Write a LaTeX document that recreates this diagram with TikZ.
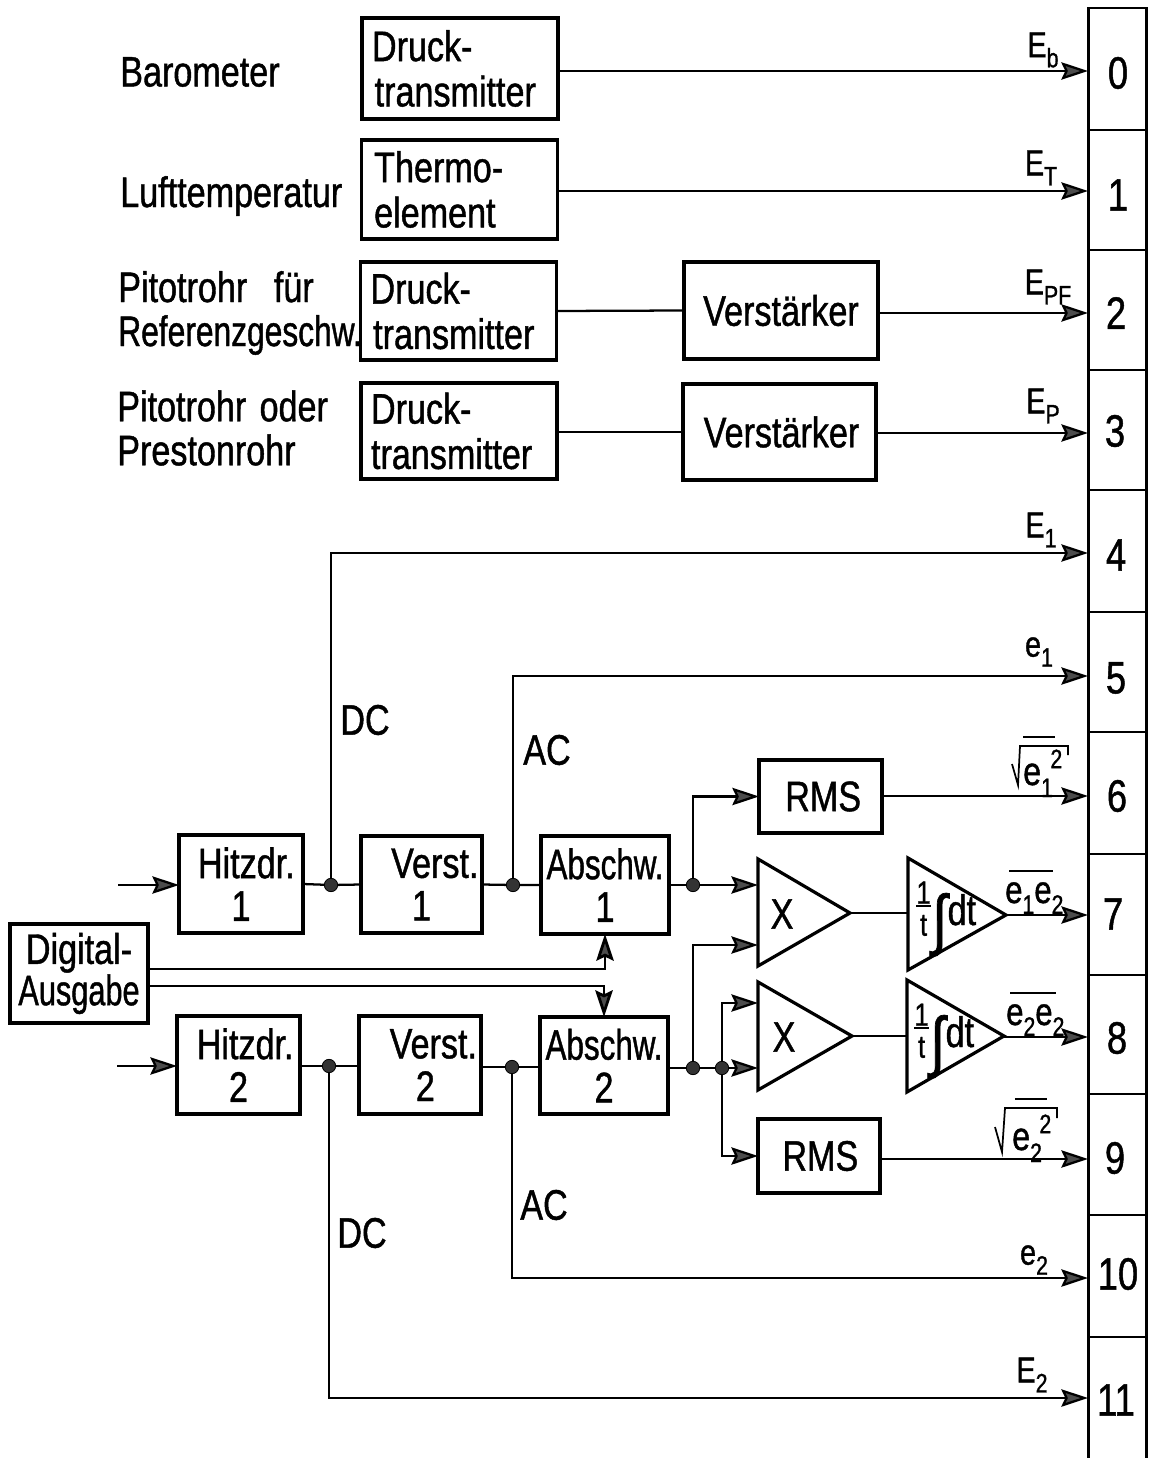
\documentclass[tikz,border=0pt]{standalone}
\usepackage{fontspec}
\usepackage{graphicx}
\setmainfont[FakeStretch=0.8,FakeBold=1.0]{Liberation Sans}
\usetikzlibrary{arrows.meta}
\newcommand{\subs}[1]{\raisebox{-0.28em}{\fontsize{20}{20}\selectfont #1}}
\newcommand{\barw}[4]{\vbox{\offinterlineskip\hbox{\kern #1\vrule width #2 height 1.4pt}\kern #3\hbox{#4}}}
\newcommand{\subsup}[2]{\rlap{\raisebox{-0.3em}{\fontsize{20}{20}\selectfont #1}}\kern 7pt\raisebox{0.42em}{\fontsize{20}{20}\selectfont #2}}
\newcommand{\ovfrac}{\makebox[11pt]{\raisebox{16pt}{\makebox[0pt]{\fontsize{24}{24}\selectfont 1}}\raisebox{13.5pt}{\makebox[0pt]{\rule{11pt}{1.7pt}}}\raisebox{-8pt}{\makebox[0pt]{\fontsize{24}{24}\selectfont t}}}}
\newcommand{\intsign}{\kern 1pt\raisebox{-13pt}{\resizebox{11pt}{37pt}{∫}}\kern 0.5pt}
\newcommand{\nrw}[2]{\scalebox{#1}[1]{#2}}
\tikzset{
  x=0.75pt,y=-0.75pt,
  txt/.style={font=\fontsize{32}{33}\selectfont,inner sep=0pt,align=left},
  blockbox/.style 2 args={draw,line width=2.4pt,rectangle,inner sep=0pt,outer sep=0pt,
    minimum width=#1*0.75pt,minimum height=#2*0.75pt,font=\fontsize{32}{32}\selectfont,align=center},
  leftbox/.style={draw,line width=2.4pt,rectangle,inner ysep=0pt,inner xsep=7.5pt,outer sep=0pt,
    text width=132pt,minimum height=#1*0.75pt,font=\fontsize{32}{34}\selectfont,align=left},
  cellbox/.style={draw,line width=2.2pt,rectangle,inner sep=0pt,outer sep=0pt,
    minimum width=44pt,minimum height=#1*0.75pt},
  digit/.style={font=\fontsize{34}{34}\selectfont,inner sep=0pt},
  wire/.style={line width=1.7pt},
  sig/.style={wire,-{Stealth[length=20pt,width=13pt,inset=3pt,fill=black!70]}},
  ampl/.style={draw,line width=2.4pt,line join=miter},
  dotj/.style={circle,fill=black!80,draw=black,line width=0.6pt,inner sep=0pt,minimum size=10pt},
  sigtxt/.style={font=\fontsize{27}{28}\selectfont,inner sep=0pt},
}
\begin{document}
\begin{tikzpicture}
\useasboundingbox (0,0) rectangle (1150,1458);
\clip (0,0) rectangle (1150,1458);
% channel column
\node[cellbox=122] (c0) at (1117.5,69) {};
\node[cellbox=120] (c1) at (1117.5,190) {};
\node[cellbox=120] (c2) at (1117.5,310) {};
\node[cellbox=120] (c3) at (1117.5,430) {};
\node[cellbox=122] (c4) at (1117.5,551) {};
\node[cellbox=120] (c5) at (1117.5,672) {};
\node[cellbox=122] (c6) at (1117.5,793) {};
\node[cellbox=121] (c7) at (1117.5,914.5) {};
\node[cellbox=119] (c8) at (1117.5,1034.5) {};
\node[cellbox=121] (c9) at (1117.5,1154.5) {};
\node[cellbox=122] (c10) at (1117.5,1276) {};
\node[cellbox=125] (c11) at (1117.5,1399.5) {};
\node[digit] (n0) at (1118,73) {0};
\node[digit] (n1) at (1118,195) {1};
\node[digit] (n2) at (1116,313) {2};
\node[digit] (n3) at (1115,431) {3};
\node[digit] (n4) at (1116,555) {4};
\node[digit] (n5) at (1116,678) {5};
\node[digit] (n6) at (1117,796) {6};
\node[digit] (n7) at (1113,914) {7};
\node[digit] (n8) at (1117,1038) {8};
\node[digit] (n9) at (1115,1158) {9};
\node[digit] (n10) at (1118,1274) {10};
\node[digit] (n11) at (1116,1400) {11};
% channel inputs
\coordinate (i0) at (1088,71);
\coordinate (i1) at (1088,191);
\coordinate (i2) at (1088,313);
\coordinate (i3) at (1088,433);
\coordinate (i4) at (1088,553);
\coordinate (i5) at (1088,676);
\coordinate (i6) at (1088,796);
\coordinate (i7) at (1088,915);
\coordinate (i8) at (1088,1037);
\coordinate (i9) at (1088,1159);
\coordinate (i10) at (1088,1278);
\coordinate (i11) at (1088,1398);
% left labels
\node[txt,anchor=west] (lbaro) at (120,72) {Barometer};
\node[txt,anchor=west] (lluft) at (120,196) {Lufttemperatur};
\node[txt,anchor=west] (lpit) at (118,313) {Pitotrohr\hspace{20pt}für\\\nrw{0.93}{Referenzgeschw.}};
\node[txt,anchor=west] (lpre) at (117,428) {Pitotrohr\hspace{10pt}oder\\Prestonrohr};
% upper blocks
\node[leftbox=101] (d0) at (460,68.5) {Druck-\\\hspace*{2pt}transmitter};
\node[leftbox=99] (th) at (459.5,189.5) {\hspace*{2pt}Thermo-\\\hspace*{2pt}element};
\node[leftbox=98] (d2) at (458.5,311) {Druck-\\\hspace*{2pt}transmitter};
\node[leftbox=96] (d3) at (459,431) {Druck-\\transmitter};
\node[blockbox={194}{97}] (v2) at (781,310.5) {Verstärker};
\node[blockbox={193}{96}] (v3) at (779.5,432) {\hspace*{3pt}Verstärker};
% lower blocks
\node[blockbox={124}{98}] (h1) at (241,884) {\hspace*{8pt}Hitzdr.\\1};
\node[blockbox={121}{97}] (vs1) at (421.5,884.5) {\hspace*{20pt}Verst.\\1};
\node[blockbox={128}{98}] (a1) at (605,885) {\nrw{0.92}{Abschw.}\\1};
\node[blockbox={123}{98}] (h2) at (238.5,1065) {\hspace*{10pt}Hitzdr.\\2};
\node[blockbox={122}{98}] (vs2) at (420,1065) {\hspace*{20pt}Verst.\\\hspace*{8pt}2};
\node[blockbox={128}{97}] (a2) at (604,1065.5) {\nrw{0.92}{Abschw.}\\2};
\node[blockbox={138}{99}] (dig) at (79,973.5) {\raisebox{-4pt}{Digital-}\\\raisebox{-3pt}{\nrw{0.9}{Ausgabe}}};
\node[blockbox={123}{73}] (r1) at (820.5,796.5) {\hspace*{4pt}RMS};
\node[blockbox={122}{74}] (r2) at (819,1156) {\hspace*{2pt}RMS};
% triangles
\coordinate (x1a) at (758,859); \coordinate (x1b) at (758,966); \coordinate (x1t) at (850,913);
\coordinate (t1a) at (908,858); \coordinate (t1b) at (908,970); \coordinate (t1t) at (1006,915);
\coordinate (x2a) at (758,982); \coordinate (x2b) at (758,1090); \coordinate (x2t) at (852,1036);
\coordinate (t2a) at (907,980); \coordinate (t2b) at (907,1092); \coordinate (t2t) at (1004,1036);
\draw[ampl] (x1a)--(x1t)--(x1b)--cycle;
\draw[ampl] (t1a)--(t1t)--(t1b)--cycle;
\draw[ampl] (x2a)--(x2t)--(x2b)--cycle;
\draw[ampl] (t2a)--(t2t)--(t2b)--cycle;
\node[txt] (xm1) at (782,914) {X};
\node[txt] (xm2) at (784,1037) {X};
\node[txt,anchor=base west] (ig1) at (916,925) {\ovfrac\intsign dt};
\node[txt,anchor=base west] (ig2) at (914,1047) {\ovfrac\intsign dt};
% junctions
\node[dotj] (j1) at (331,885) {};
\node[dotj] (j2) at (513,885) {};
\node[dotj] (j3) at (693,885) {};
\node[dotj] (j4) at (329,1066) {};
\node[dotj] (j5) at (512,1067) {};
\node[dotj] (j6) at (693,1068) {};
\node[dotj] (j7) at (722,1068) {};
% free ends
\coordinate (in1) at (118,885);
\coordinate (in2) at (117,1066);
\coordinate (x1u) at (758,885);
\coordinate (x1l) at (758,945);
\coordinate (x2u) at (758,1003);
\coordinate (x2l) at (758,1068);
\coordinate (t1in) at (908,913);
\coordinate (t2in) at (907,1036);
\coordinate (digu) at (148,969);
\coordinate (digl) at (148,986);
% connectors
\draw[sig] (d0.east |- i0) -- (i0);
\draw[sig] (th.east |- i1) -- (i1);
\draw[wire] (d2.east) -- (v2.west);
\draw[sig] (v2.east |- i2) -- (i2);
\draw[wire] (d3.east |- v3.west) -- (v3.west);
\draw[sig] (v3.east |- i3) -- (i3);
\draw[sig] (in1) -- (in1 -| h1.west);
\draw[wire] (h1.east) -- (j1) -- (vs1.west);
\draw[wire] (vs1.east) -- (j2) -- (a1.west);
\draw[wire] (a1.east) -- (j3);
\draw[sig] (j3) -- (x1u);
\draw[sig] (j3) |- (r1.west);
\draw[sig] (j1) |- (i4);
\draw[sig] (j2) |- (i5);
\draw[sig] (r1.east |- i6) -- (i6);
\draw[wire] (x1t) -- (t1in);
\draw[sig] (t1t) -- (i7);
\draw[sig] (in2) -- (in2 -| h2.west);
\draw[wire] (h2.east |- j4) -- (j4) -- (vs2.west |- j4);
\draw[wire] (vs2.east |- j5) -- (j5) -- (a2.west |- j5);
\draw[wire] (a2.east |- j6) -- (j6) -- (j7);
\draw[sig] (j7) -- (x2l);
\draw[sig] (j6) |- (x1l);
\draw[sig] (j7) |- (x2u);
\draw[sig] (j7) |- (r2.west);
\draw[wire] (x2t) -- (t2in);
\draw[sig] (t2t |- i8) -- (i8);
\draw[sig] (r2.east |- i9) -- (i9);
\draw[sig] (j5) |- (i10);
\draw[sig] (j4) |- (i11);
\draw[sig,line width=2.1pt] (digu) -| (a1.south);
\draw[sig,line width=2.1pt] (digl) -| (a2.north);
% signal labels
\node[txt] (dc1) at (365,720) {DC};
\node[txt] (ac1) at (547,750) {AC};
\node[txt] (dc2) at (362,1233) {DC};
\node[txt] (ac2) at (544,1205) {AC};
\node[sigtxt] (eb) at (1043,50) {E\subs{b}};
\node[sigtxt] (et) at (1041,168) {E\subs{T}};
\node[sigtxt] (epf) at (1048,287) {E\subs{PF}};
\node[sigtxt] (ep) at (1043,406) {E\subs{P}};
\node[sigtxt] (e1g) at (1041,530) {E\subs{1}};
\node[sigtxt] (e1k) at (1039,652) {e\subs{1}};
% radicals
\coordinate (r1a) at (1012,764); \coordinate (r1b) at (1018,785); \coordinate (r1c) at (1020,746); \coordinate (r1d) at (1068,746); \coordinate (r1e) at (1068,755);
\draw[line width=1.3pt,line join=miter] (r1a) -- (r1b) -- (r1c) -- (r1d) -- (r1e);
\node[sigtxt,anchor=base west,font=\fontsize{30}{30}\selectfont] (s1) at (1023,785) {\barw{0pt}{24pt}{9pt}{e\subsup{1}{2}}};
\coordinate (r2a) at (995,1127); \coordinate (r2b) at (1002,1152); \coordinate (r2c) at (1005,1108); \coordinate (r2d) at (1057,1108); \coordinate (r2e) at (1057,1118);
\draw[line width=1.3pt,line join=miter] (r2a) -- (r2b) -- (r2c) -- (r2d) -- (r2e);
\node[sigtxt,anchor=base west,font=\fontsize{30}{30}\selectfont] (s2) at (1012,1150) {\barw{2pt}{24pt}{11pt}{e\subsup{2}{2}}};
\node[sigtxt,anchor=base west,font=\fontsize{29}{29}\selectfont] (p1) at (1005,903) {\barw{3pt}{33pt}{8pt}{e\subs{1}e\subs{2}}};
\node[sigtxt,anchor=base west,font=\fontsize{29}{29}\selectfont] (p2) at (1006,1025) {\barw{3pt}{34pt}{8pt}{e\subs{2}e\subs{2}}};
\node[sigtxt] (e2k) at (1034,1260) {e\subs{2}};
\node[sigtxt] (e2g) at (1032,1375) {E\subs{2}};
\end{tikzpicture}
\end{document}
